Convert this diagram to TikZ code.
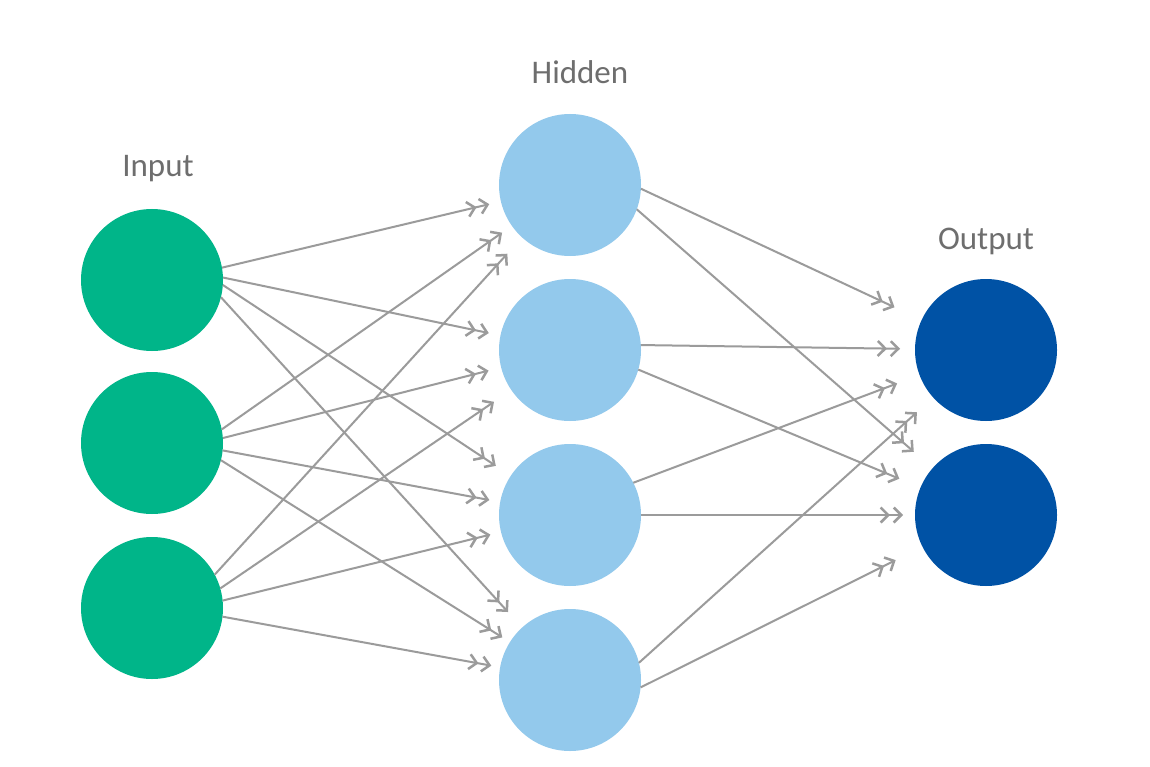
\documentclass[tikz,border=0pt]{standalone}
\usepackage{fontspec}
\setmainfont{Carlito}
\usetikzlibrary{arrows.meta}
\definecolor{ingreen}{RGB}{0,181,137}
\definecolor{hidblue}{RGB}{147,201,236}
\definecolor{outblue}{RGB}{0,82,165}
\definecolor{lineg}{RGB}{155,155,155}
\definecolor{txtg}{RGB}{110,110,110}
\tikzset{
  neuron/.style={circle, minimum size=142pt, inner sep=0pt, outer sep=0pt, draw=none},
  inneuron/.style={neuron, fill=ingreen},
  hidneuron/.style={neuron, fill=hidblue},
  outneuron/.style={neuron, fill=outblue},
  layerlabel/.style={anchor=base, text=txtg, font=\fontsize{33}{36}\selectfont},
  conn/.style={draw=lineg, line width=2pt,
    -{Straight Barb[length=7.5pt,width=15pt,line width=2.5pt,sep=2.5pt]Straight Barb[length=7.5pt,width=15pt,line width=2.5pt]}}
}
\begin{document}
\begin{tikzpicture}[x=1pt,y=-1pt]
\useasboundingbox (0,0) rectangle (1150,767);
\fill[white] (0,0) rectangle (1150,767);

% nodes
\node[inneuron] (i1) at (152,280) {};
\node[inneuron] (i2) at (152,443) {};
\node[inneuron] (i3) at (152,608) {};
\node[hidneuron] (h1) at (570,185) {};
\node[hidneuron] (h2) at (570,350) {};
\node[hidneuron] (h3) at (570,515) {};
\node[hidneuron] (h4) at (570,680) {};
\node[outneuron] (o1) at (986,350) {};
\node[outneuron] (o2) at (986,515) {};

% labels
\node[layerlabel] (linput) at (158,177) {Input};
\node[layerlabel] (lhidden) at (580,84) {Hidden};
\node[layerlabel] (loutput) at (986,250) {Output};

% connectors input -> hidden
\foreach \s/\a/\t/\g in {
  i1/10/h1/12, i1/2/h2/12, i1/-4/h3/18, i1/-14/h4/21,
  i2/11/h1/12, i2/4/h2/13, i2/-6/h3/11, i2/-14/h4/9,
  i3/28/h1/22, i3/16/h2/21, i3/6/h3/11, i3/-7/h4/9}
  \draw[conn, shorten >=\g pt] (\s.\a) -- (\t);

% connectors hidden -> output
\foreach \s/\a/\t/\g in {
  h1/-3/o1/30, h1/-20/o2/25,
  h2/4/o1/15, h2/-16/o2/23,
  h3/27/o1/24, h3/0/o2/12,
  h4/14/o1/22, h4/-6/o2/30}
  \draw[conn, shorten >=\g pt] (\s.\a) -- (\t);
\end{tikzpicture}
\end{document}
